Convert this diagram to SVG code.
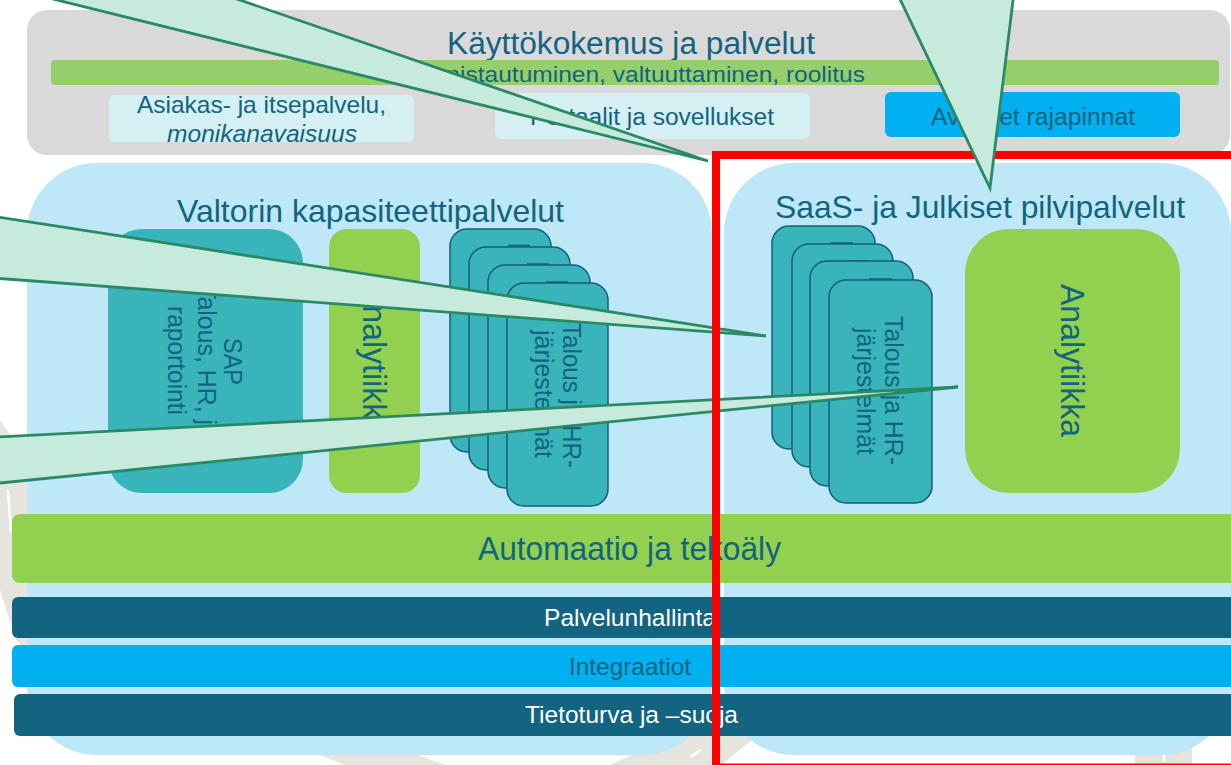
<svg xmlns="http://www.w3.org/2000/svg" width="1231" height="765" viewBox="0 0 1231 765">
<style>
text{font-family:"Liberation Sans",Arial,sans-serif;fill:#126480}
.card{fill:#38B4BA;stroke:#125F7A;stroke-width:1.5}
.tick{stroke:#125F7A;stroke-width:1.5}
.teal{fill:#38B4BA}
.lime{fill:#92D050}
.dark{fill:#126480}
.cyan{fill:#00B0F0}
.pale{fill:#D5F0F2}
.panel{fill:#BEE8F7}
.bg{fill:#E5E5DE}
.streak{stroke:#fff;stroke-width:2.5;fill:none}
.call{fill:#C6EBDD;stroke:#2A8A66;stroke-width:2.8;stroke-linejoin:miter;stroke-miterlimit:20}
</style>
<rect width="1231" height="765" fill="#fff"/>
<g id="background">
<path class="bg" d="M0,420L27,460V650L16,640L0,590Z"/>
<path class="streak" d="M8,490L11,533"/>
<path class="bg" d="M320,755H418L445,765H345Z"/>
<path class="bg" d="M610,765L672,736H757L721,765Z"/>
<path class="streak" d="M690,757L701,750"/>
<path class="bg" d="M1135,765V745L1192,735V765Z"/>
<path class="streak" d="M1164,754V762"/>
</g>
<g id="kayttokokemus">
<rect x="27" y="10" width="1203" height="145" rx="20" fill="#D9D9D9"/>
<text x="447" y="54" font-size="31" textLength="368" lengthAdjust="spacingAndGlyphs">Käyttökokemus ja palvelut</text>
</g>
<g id="tunnistautuminen">
<rect x="51" y="60" width="1168" height="25" rx="4" fill="#95CE6C"/>
<text x="405" y="81.500" font-size="22.500" textLength="460" lengthAdjust="spacingAndGlyphs">Tunnistautuminen, valtuuttaminen, roolitus</text>
</g>
<g id="asiakaspalvelu">
<rect class="pale" x="109" y="95" width="305" height="47" rx="6"/>
<text x="137" y="113" font-size="24" textLength="249" lengthAdjust="spacingAndGlyphs">Asiakas- ja itsepalvelu,</text>
<text x="167" y="142" font-size="24" font-style="italic" textLength="190" lengthAdjust="spacingAndGlyphs">monikanavaisuus</text>
</g>
<g id="portaalit">
<rect class="pale" x="495" y="93" width="315" height="46" rx="6"/>
<text x="530" y="124.500" font-size="23.500" textLength="244" lengthAdjust="spacingAndGlyphs">Portaalit ja sovellukset</text>
</g>
<g id="rajapinnat">
<rect class="cyan" x="885" y="92" width="295" height="45" rx="6"/>
<text x="931" y="124.500" font-size="23.500" textLength="204" lengthAdjust="spacingAndGlyphs">Avoimet rajapinnat</text>
</g>
<g id="valtori-panel">
<rect class="panel" x="27" y="163" width="685" height="592" rx="70"/>
<text x="177" y="222" font-size="32" textLength="387" lengthAdjust="spacingAndGlyphs">Valtorin kapasiteettipalvelut</text>
</g>
<g id="saas-panel">
<rect class="panel" x="724" y="163" width="507" height="592" rx="70"/>
<text x="775" y="218" font-size="31.500" textLength="410" lengthAdjust="spacingAndGlyphs">SaaS- ja Julkiset pilvipalvelut</text>
</g>
<g id="sap">
<rect class="teal" x="108" y="229" width="195" height="264" rx="34"/>
<text transform="translate(224,338) rotate(90)" font-size="26" textLength="47" lengthAdjust="spacingAndGlyphs">SAP</text>
<text transform="translate(198,284) rotate(90)" font-size="26" textLength="155" lengthAdjust="spacingAndGlyphs">Talous, HR, ja</text>
<text transform="translate(168,306) rotate(90)" font-size="26" textLength="109" lengthAdjust="spacingAndGlyphs">raportointi</text>
</g>
<g id="analytiikka-valtori">
<rect class="lime" x="329" y="229" width="91" height="264" rx="18"/>
<text transform="translate(363,284) rotate(90)" font-size="34" textLength="153" lengthAdjust="spacingAndGlyphs">Analytiikka</text>
</g>
<g id="jarjestelmat-valtori">
<rect class="card" x="450" y="229" width="101" height="223" rx="17"/>
<path class="tick" d="M508,245.500H530"/>
<rect class="card" x="469" y="247" width="101" height="223" rx="17"/>
<path class="tick" d="M527,264H549"/>
<rect class="card" x="488" y="265" width="102" height="223" rx="17"/>
<path class="tick" d="M546,282H568"/>
<rect class="card" x="507" y="283" width="101" height="223" rx="17"/>
<text transform="translate(563,323) rotate(90)" font-size="26" textLength="145" lengthAdjust="spacingAndGlyphs">Talous ja HR-</text>
<text transform="translate(535,330) rotate(90)" font-size="26" textLength="128" lengthAdjust="spacingAndGlyphs">järjestelmät</text>
</g>
<g id="jarjestelmat-saas">
<rect class="card" x="772" y="226" width="103" height="223" rx="17"/>
<path class="tick" d="M830,243H853"/>
<rect class="card" x="792" y="244" width="101" height="223" rx="17"/>
<path class="tick" d="M849,261H870"/>
<rect class="card" x="810" y="261" width="103" height="225" rx="17"/>
<path class="tick" d="M869,279H892"/>
<rect class="card" x="829" y="280" width="103" height="223" rx="17"/>
<text transform="translate(885,316) rotate(90)" font-size="26" textLength="149" lengthAdjust="spacingAndGlyphs">Talous ja HR-</text>
<text transform="translate(857,328) rotate(90)" font-size="26" textLength="127" lengthAdjust="spacingAndGlyphs">järjestelmät</text>
</g>
<g id="analytiikka-saas">
<rect class="lime" x="965" y="229" width="215" height="264" rx="44"/>
<text transform="translate(1061,284) rotate(90)" font-size="34" textLength="153" lengthAdjust="spacingAndGlyphs">Analytiikka</text>
</g>
<g id="automaatio">
<rect class="lime" x="12" y="514" width="1240" height="69" rx="8"/>
<text x="478" y="560" font-size="33" textLength="303" lengthAdjust="spacingAndGlyphs">Automaatio ja tekoäly</text>
</g>
<g id="palvelunhallinta">
<rect class="dark" x="12" y="597" width="1240" height="41" rx="6"/>
<text x="544" y="626" font-size="24.500" textLength="172" lengthAdjust="spacingAndGlyphs" style="fill:#fff">Palvelunhallinta</text>
</g>
<g id="integraatiot">
<rect class="cyan" x="12" y="645" width="1240" height="42" rx="6"/>
<text x="569" y="675" font-size="24.500" textLength="122" lengthAdjust="spacingAndGlyphs">Integraatiot</text>
</g>
<g id="tietoturva">
<rect class="dark" x="14" y="694" width="1240" height="42" rx="6"/>
<text x="525" y="723" font-size="24.500" textLength="213" lengthAdjust="spacingAndGlyphs" style="fill:#fff">Tietoturva ja –suoja</text>
</g>
<g id="connectors-under">
<polygon class="call" points="-60,208 766,336 -60,274"/>
<polygon class="call" points="-60,440 958,387 -60,489"/>
</g>
<g id="rajaus">
<rect x="716" y="155" width="620" height="612.500" fill="none" stroke="#FF0000" stroke-width="8"/>
</g>
<g id="connectors">
<polygon class="call" points="-32,-22 708,161 170,-24"/>
<polygon class="call" points="889,-24 990,188 1016,-24"/>
</g>
</svg>
